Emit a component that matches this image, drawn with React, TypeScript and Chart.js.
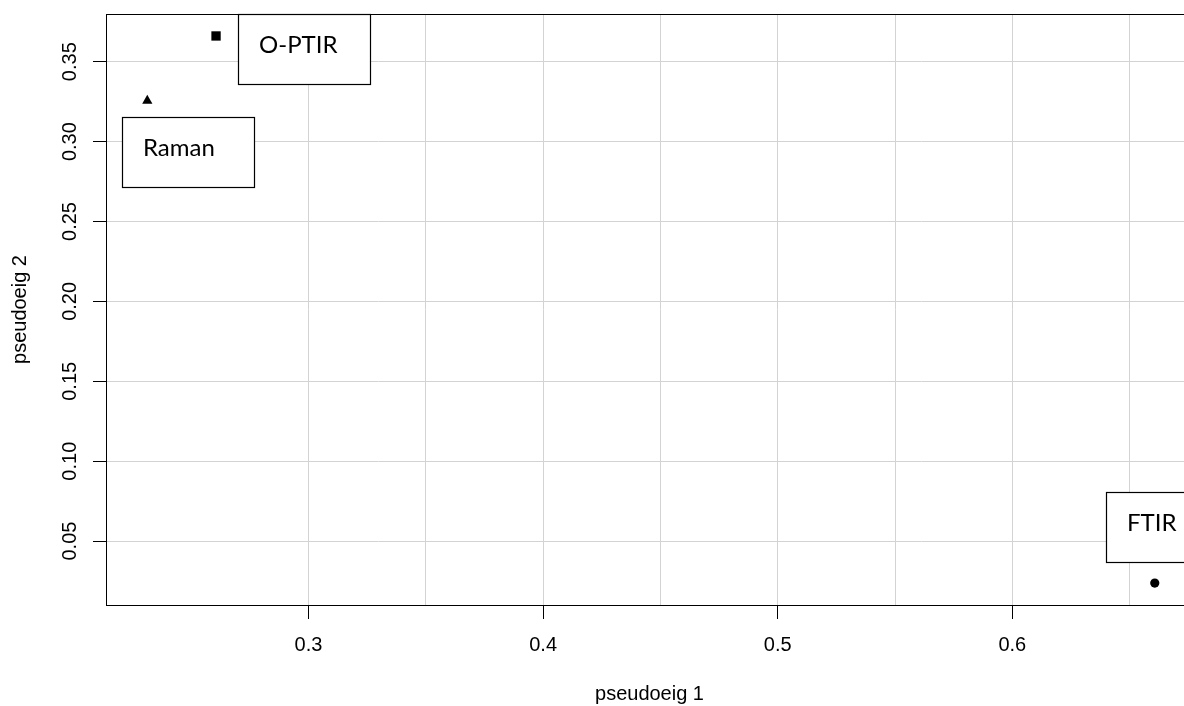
import React, { useEffect, useRef } from "react";
import { Chart, registerables } from "chart.js";

Chart.register(...registerables);

// ---- data ----
const methods = ["FTIR", "Raman", "O-PTIR"];
const pseudoeig1 = [0.6607, 0.2313, 0.2606];
const pseudoeig2 = [0.0237, 0.3256, 0.3661];
const markerStyles = ["circle", "triangle", "rect"];

// axis ranges and ticks
const xMin = 0.2137;
const xMax = 0.677;
const yMin = 0.01;
const yMax = 0.37985;
const xGridValues = [0.3, 0.35, 0.4, 0.45, 0.5, 0.55, 0.6, 0.65];
const xTickValues = [0.3, 0.4, 0.5, 0.6];
const xTickLabels = ["0.3", "0.4", "0.5", "0.6"];
const yGridValues = [0.05, 0.1, 0.15, 0.2, 0.25, 0.3, 0.35];
const yTickLabels = ["0.05", "0.10", "0.15", "0.20", "0.25", "0.30", "0.35"];
const xTitle = "pseudoeig 1";
const yTitle = "pseudoeig 2";

// ---- styles ----
const markerRadii = [4.6, 5.9, 6.6];
const labelBoxOffsets = [
  [-48.3, -90.8],
  [-25.6, 16.8],
  [21.8, -21.9],
];
const labelBoxSize = [132, 70];
const axisFont = { family: "'Liberation Sans', Arial, sans-serif", size: 20 };
const boxFont = "24px Lato, 'Open Sans', sans-serif";

const near = (a: number, b: number) => Math.abs(a - b) < 1e-9;
const xLabelFor = (v: number) => {
  const i = xTickValues.findIndex((t) => near(t, v));
  return i >= 0 ? xTickLabels[i] : "";
};

const annotatePlugin = {
  id: "annotate",
  beforeDatasetsDraw(chart: any) {
    const { ctx, chartArea: a } = chart;
    ctx.save();
    ctx.strokeStyle = "#000";
    ctx.lineWidth = 1;
    ctx.strokeRect(
      Math.round(a.left) + 0.5,
      Math.round(a.top) + 0.5,
      Math.round(a.right - a.left),
      Math.round(a.bottom - a.top)
    );
    ctx.restore();
  },
  afterDatasetsDraw(chart: any) {
    const { ctx } = chart;
    const xs = chart.scales.x;
    const ys = chart.scales.y;
    ctx.save();
    // rotated y tick labels
    ctx.fillStyle = "#000";
    ctx.font = `${axisFont.size}px ${axisFont.family}`;
    ctx.textAlign = "center";
    ctx.textBaseline = "middle";
    yGridValues.forEach((v, i) => {
      const py = ys.getPixelForValue(v);
      ctx.save();
      ctx.translate(70, py);
      ctx.rotate(-Math.PI / 2);
      ctx.fillText(yTickLabels[i], 0, 0);
      ctx.restore();
    });
    // label boxes
    ctx.font = boxFont;
    ctx.textAlign = "left";
    ctx.textBaseline = "alphabetic";
    methods.forEach((m, i) => {
      const px = xs.getPixelForValue(pseudoeig1[i]);
      const py = ys.getPixelForValue(pseudoeig2[i]);
      const left = Math.round(px + labelBoxOffsets[i][0]);
      const top = Math.round(py + labelBoxOffsets[i][1]);
      const [w, h] = labelBoxSize;
      ctx.fillStyle = "#fff";
      ctx.fillRect(left, top, w, h);
      ctx.strokeStyle = "#000";
      ctx.lineWidth = 1.2;
      ctx.strokeRect(left + 0.5, top + 0.5, w, h);
      ctx.fillStyle = "#000";
      ctx.fillText(m, left + 21, top + 38.5);
    });
    ctx.restore();
  },
};

export default function App() {
  const canvasRef = useRef<HTMLCanvasElement | null>(null);

  useEffect(() => {
    const canvas = canvasRef.current;
    if (!canvas) return;
    const chart = new Chart(canvas, {
      type: "scatter",
      data: {
        datasets: [
          {
            label: "methods",
            data: methods.map((_, i) => ({ x: pseudoeig1[i], y: pseudoeig2[i] })),
            pointStyle: markerStyles as any,
            pointRadius: markerRadii,
            pointHoverRadius: markerRadii,
            pointBackgroundColor: "#000",
            pointBorderColor: "#000",
            pointBorderWidth: 0,
          },
        ],
      },
      options: {
        responsive: false,
        animation: false,
        devicePixelRatio: 1,
        layout: { padding: { top: 14, right: 7, bottom: 0, left: 0 } },
        plugins: {
          legend: { display: false },
          tooltip: { enabled: false },
        },
        scales: {
          x: {
            type: "linear",
            min: xMin,
            max: xMax,
            afterBuildTicks: (s: any) => {
              s.ticks = xGridValues.map((v) => ({ value: v }));
            },
            afterFit: (s: any) => {
              s.height = 101;
            },
            ticks: {
              autoSkip: false,
              maxRotation: 0,
              minRotation: 0,
              padding: 14,
              color: "#000",
              font: axisFont,
              callback: (v: any) => xLabelFor(Number(v)),
            },
            grid: {
              color: "#d3d3d3",
              lineWidth: 1,
              drawTicks: true,
              tickLength: 14,
              tickWidth: 1,
              tickColor: (c: any) =>
                c.tick && xLabelFor(c.tick.value) !== "" ? "#000" : "rgba(0,0,0,0)",
            },
            border: { color: "#000", width: 1 },
            title: {
              display: true,
              text: xTitle,
              color: "#000",
              font: axisFont,
              padding: { top: 0, bottom: 0 },
            },
          },
          y: {
            type: "linear",
            min: yMin,
            max: yMax,
            afterBuildTicks: (s: any) => {
              s.ticks = yGridValues.map((v) => ({ value: v }));
            },
            afterFit: (s: any) => {
              s.width = 106;
            },
            ticks: { display: false },
            grid: {
              color: "#d3d3d3",
              lineWidth: 1,
              drawTicks: true,
              tickLength: 13,
              tickWidth: 1,
              tickColor: "#000",
            },
            border: { color: "#000", width: 1 },
            title: {
              display: true,
              text: yTitle,
              color: "#000",
              font: axisFont,
              padding: { top: 8, bottom: 0 },
            },
          },
        },
      },
      plugins: [annotatePlugin],
    });
    return () => chart.destroy();
  }, []);

  return (
    <div
      style={{
        position: "fixed",
        left: 0,
        top: 0,
        width: 1184,
        height: 706,
        overflow: "hidden",
        background: "#fff",
      }}
    >
      <canvas ref={canvasRef} width={1200} height={706} style={{ display: "block" }} />
    </div>
  );
}
